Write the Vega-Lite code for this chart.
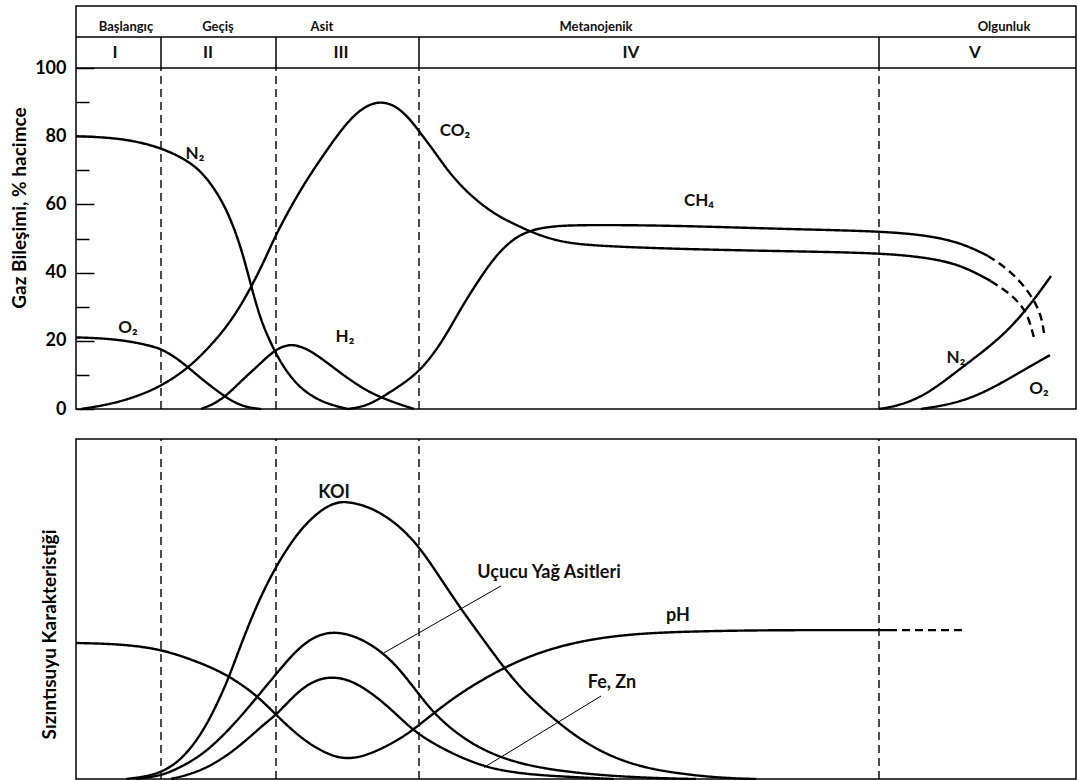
{
  "$schema": "https://vega.github.io/schema/vega-lite/v6.json",
  "padding": {"left": 9, "top": 5, "right": 3, "bottom": 2},
  "background": "white",
  "bounds": "flush",
  "spacing": 30,
  "config": {
    "view": {"stroke": "black", "strokeWidth": 1.5},
    "axis": {"grid": false},
    "font": "Lato",
    "text": {"font": "Lato", "fontWeight": "bold", "color": "#111"}
  },
  "datasets": {
    "gas": [
      {"s": "N2a", "d": "solid", "x": 0, "y": 80}, {"s": "N2a", "d": "solid", "x": 3, "y": 79.7}, {"s": "N2a", "d": "solid", "x": 6, "y": 78.6}, {"s": "N2a", "d": "solid", "x": 8.5, "y": 76.5}, {"s": "N2a", "d": "solid", "x": 10.2, "y": 74.3}, {"s": "N2a", "d": "solid", "x": 11.8, "y": 71.5}, {"s": "N2a", "d": "solid", "x": 13, "y": 68}, {"s": "N2a", "d": "solid", "x": 14.2, "y": 63}, {"s": "N2a", "d": "solid", "x": 15.2, "y": 57.5}, {"s": "N2a", "d": "solid", "x": 16.2, "y": 50}, {"s": "N2a", "d": "solid", "x": 17, "y": 42}, {"s": "N2a", "d": "solid", "x": 17.7, "y": 34}, {"s": "N2a", "d": "solid", "x": 18.5, "y": 26}, {"s": "N2a", "d": "solid", "x": 19.3, "y": 20.5}, {"s": "N2a", "d": "solid", "x": 20.2, "y": 15}, {"s": "N2a", "d": "solid", "x": 21.3, "y": 10}, {"s": "N2a", "d": "solid", "x": 22.5, "y": 6}, {"s": "N2a", "d": "solid", "x": 24, "y": 3}, {"s": "N2a", "d": "solid", "x": 25.5, "y": 1.2}, {"s": "N2a", "d": "solid", "x": 27.2, "y": 0},
      {"s": "O2a", "d": "solid", "x": 0, "y": 21}, {"s": "O2a", "d": "solid", "x": 3, "y": 20.7}, {"s": "O2a", "d": "solid", "x": 5.5, "y": 19.8}, {"s": "O2a", "d": "solid", "x": 7.5, "y": 18.5}, {"s": "O2a", "d": "solid", "x": 8.5, "y": 17.6}, {"s": "O2a", "d": "solid", "x": 9.8, "y": 15.5}, {"s": "O2a", "d": "solid", "x": 11.3, "y": 12}, {"s": "O2a", "d": "solid", "x": 12.5, "y": 9}, {"s": "O2a", "d": "solid", "x": 13.5, "y": 6.7}, {"s": "O2a", "d": "solid", "x": 14.5, "y": 4.5}, {"s": "O2a", "d": "solid", "x": 15.5, "y": 2.5}, {"s": "O2a", "d": "solid", "x": 16.5, "y": 1.1}, {"s": "O2a", "d": "solid", "x": 17.5, "y": 0.3}, {"s": "O2a", "d": "solid", "x": 18.5, "y": 0},
      {"s": "CO2", "d": "solid", "x": 0.5, "y": 0}, {"s": "CO2", "d": "solid", "x": 3.5, "y": 1.4}, {"s": "CO2", "d": "solid", "x": 6.2, "y": 3.8}, {"s": "CO2", "d": "solid", "x": 8.5, "y": 6.7}, {"s": "CO2", "d": "solid", "x": 11.3, "y": 12}, {"s": "CO2", "d": "solid", "x": 14.2, "y": 20.8}, {"s": "CO2", "d": "solid", "x": 16, "y": 28}, {"s": "CO2", "d": "solid", "x": 17.5, "y": 35.6}, {"s": "CO2", "d": "solid", "x": 19, "y": 44.5}, {"s": "CO2", "d": "solid", "x": 20, "y": 51.3}, {"s": "CO2", "d": "solid", "x": 22.5, "y": 64.8}, {"s": "CO2", "d": "solid", "x": 25.2, "y": 76.5}, {"s": "CO2", "d": "solid", "x": 27.2, "y": 84.5}, {"s": "CO2", "d": "solid", "x": 28.8, "y": 88.6}, {"s": "CO2", "d": "solid", "x": 30.2, "y": 90.2}, {"s": "CO2", "d": "solid", "x": 31.5, "y": 89.5}, {"s": "CO2", "d": "solid", "x": 32.5, "y": 87.6}, {"s": "CO2", "d": "solid", "x": 33.5, "y": 84.6}, {"s": "CO2", "d": "solid", "x": 34.3, "y": 81.5}, {"s": "CO2", "d": "solid", "x": 35.8, "y": 75.7}, {"s": "CO2", "d": "solid", "x": 37.2, "y": 69.8}, {"s": "CO2", "d": "solid", "x": 38.8, "y": 64.5}, {"s": "CO2", "d": "solid", "x": 40.5, "y": 60.1}, {"s": "CO2", "d": "solid", "x": 42.2, "y": 56.6}, {"s": "CO2", "d": "solid", "x": 43.8, "y": 54.3}, {"s": "CO2", "d": "solid", "x": 45.3, "y": 52.2}, {"s": "CO2", "d": "solid", "x": 47.2, "y": 50.1}, {"s": "CO2", "d": "solid", "x": 49.2, "y": 48.7}, {"s": "CO2", "d": "solid", "x": 52.2, "y": 47.8}, {"s": "CO2", "d": "solid", "x": 60.5, "y": 46.9}, {"s": "CO2", "d": "solid", "x": 70.5, "y": 46.3}, {"s": "CO2", "d": "solid", "x": 80.2, "y": 45.8}, {"s": "CO2", "d": "solid", "x": 85, "y": 44.5}, {"s": "CO2", "d": "solid", "x": 88.5, "y": 42.3}, {"s": "CO2", "d": "solid", "x": 91.5, "y": 37.5},
      {"s": "CO2d", "d": "dash", "x": 91.5, "y": 37.5}, {"s": "CO2d", "d": "dash", "x": 93.8, "y": 33.1}, {"s": "CO2d", "d": "dash", "x": 95.2, "y": 27.9}, {"s": "CO2d", "d": "dash", "x": 95.8, "y": 20.8},
      {"s": "CH4", "d": "solid", "x": 27.2, "y": 0}, {"s": "CH4", "d": "solid", "x": 29, "y": 0.8}, {"s": "CH4", "d": "solid", "x": 30.8, "y": 3.8}, {"s": "CH4", "d": "solid", "x": 32.5, "y": 7}, {"s": "CH4", "d": "solid", "x": 34.4, "y": 11.1}, {"s": "CH4", "d": "solid", "x": 36.5, "y": 19}, {"s": "CH4", "d": "solid", "x": 38.5, "y": 29.6}, {"s": "CH4", "d": "solid", "x": 40.2, "y": 37.5}, {"s": "CH4", "d": "solid", "x": 41.8, "y": 44.3}, {"s": "CH4", "d": "solid", "x": 43.5, "y": 49.5}, {"s": "CH4", "d": "solid", "x": 45.3, "y": 52.4}, {"s": "CH4", "d": "solid", "x": 47.8, "y": 53.8}, {"s": "CH4", "d": "solid", "x": 52, "y": 54}, {"s": "CH4", "d": "solid", "x": 60, "y": 53.8}, {"s": "CH4", "d": "solid", "x": 70.5, "y": 52.8}, {"s": "CH4", "d": "solid", "x": 80.2, "y": 52.2}, {"s": "CH4", "d": "solid", "x": 85, "y": 51}, {"s": "CH4", "d": "solid", "x": 88.5, "y": 48.8}, {"s": "CH4", "d": "solid", "x": 91.2, "y": 44.9},
      {"s": "CH4d", "d": "dash", "x": 91.2, "y": 44.9}, {"s": "CH4d", "d": "dash", "x": 93.5, "y": 40.5}, {"s": "CH4d", "d": "dash", "x": 95.5, "y": 33.7}, {"s": "CH4d", "d": "dash", "x": 96.5, "y": 27.8}, {"s": "CH4d", "d": "dash", "x": 96.8, "y": 22.3},
      {"s": "H2", "d": "solid", "x": 12.5, "y": 0}, {"s": "H2", "d": "solid", "x": 14.5, "y": 2.3}, {"s": "H2", "d": "solid", "x": 16.5, "y": 8.2}, {"s": "H2", "d": "solid", "x": 18.5, "y": 13.5}, {"s": "H2", "d": "solid", "x": 19.8, "y": 17.2}, {"s": "H2", "d": "solid", "x": 21.5, "y": 19.5}, {"s": "H2", "d": "solid", "x": 23.5, "y": 17.2}, {"s": "H2", "d": "solid", "x": 25.8, "y": 12}, {"s": "H2", "d": "solid", "x": 28.5, "y": 6.2}, {"s": "H2", "d": "solid", "x": 30.8, "y": 2.9}, {"s": "H2", "d": "solid", "x": 33.8, "y": 0},
      {"s": "N2b", "d": "solid", "x": 80.3, "y": 0}, {"s": "N2b", "d": "solid", "x": 82.2, "y": 0.9}, {"s": "N2b", "d": "solid", "x": 85, "y": 4}, {"s": "N2b", "d": "solid", "x": 88.5, "y": 12}, {"s": "N2b", "d": "solid", "x": 92.5, "y": 20.8}, {"s": "N2b", "d": "solid", "x": 95.2, "y": 29.6}, {"s": "N2b", "d": "solid", "x": 97.5, "y": 39},
      {"s": "O2b", "d": "solid", "x": 84.5, "y": 0}, {"s": "O2b", "d": "solid", "x": 88, "y": 1.6}, {"s": "O2b", "d": "solid", "x": 91.2, "y": 5.3}, {"s": "O2b", "d": "solid", "x": 94.5, "y": 11}, {"s": "O2b", "d": "solid", "x": 97.4, "y": 15.8}
    ],
    "gasLabels": [
      {"x": 11.9, "y": 74.8, "t": "N₂"}, {"x": 5.2, "y": 23.8, "t": "O₂"}, {"x": 26.9, "y": 21.1, "t": "H₂"}, {"x": 37.9, "y": 81.5, "t": "CO₂"}, {"x": 62.3, "y": 61, "t": "CH₄"}, {"x": 88, "y": 15, "t": "N₂"}, {"x": 96.3, "y": 5.9, "t": "O₂"}
    ],
    "phaseLines": [{"x": 8.5}, {"x": 20}, {"x": 34.3}, {"x": 80.3}],
    "headerLines": [{"h": 100}, {"h": 109.1}],
    "phases": [
      {"x": 5.0, "t": "Başlangıç"}, {"x": 14.2, "t": "Geçiş"}, {"x": 24.6, "t": "Asit"}, {"x": 52.0, "t": "Metanojenik"}, {"x": 92.8, "t": "Olgunluk"}
    ],
    "numerals": [
      {"x": 3.9, "t": "I"}, {"x": 13.2, "t": "II"}, {"x": 26.5, "t": "III"}, {"x": 55.5, "t": "IV"}, {"x": 89.9, "t": "V"}
    ],
    "leach": [
      {"s": "KOI", "d": "solid", "x": 5, "y": 0}, {"s": "KOI", "d": "solid", "x": 7, "y": 0.7}, {"s": "KOI", "d": "solid", "x": 8.5, "y": 2}, {"s": "KOI", "d": "solid", "x": 10, "y": 4.5}, {"s": "KOI", "d": "solid", "x": 11.5, "y": 9}, {"s": "KOI", "d": "solid", "x": 13, "y": 15.5}, {"s": "KOI", "d": "solid", "x": 14.5, "y": 24.5}, {"s": "KOI", "d": "solid", "x": 15.5, "y": 31.5}, {"s": "KOI", "d": "solid", "x": 16.8, "y": 42}, {"s": "KOI", "d": "solid", "x": 18.5, "y": 54}, {"s": "KOI", "d": "solid", "x": 20.1, "y": 63}, {"s": "KOI", "d": "solid", "x": 21.5, "y": 69.5}, {"s": "KOI", "d": "solid", "x": 22.8, "y": 74.5}, {"s": "KOI", "d": "solid", "x": 24.5, "y": 79.2}, {"s": "KOI", "d": "solid", "x": 26, "y": 81.4}, {"s": "KOI", "d": "solid", "x": 27.2, "y": 81.6}, {"s": "KOI", "d": "solid", "x": 29.5, "y": 80}, {"s": "KOI", "d": "solid", "x": 32.2, "y": 75}, {"s": "KOI", "d": "solid", "x": 34.4, "y": 68}, {"s": "KOI", "d": "solid", "x": 36, "y": 61}, {"s": "KOI", "d": "solid", "x": 38.5, "y": 50}, {"s": "KOI", "d": "solid", "x": 40, "y": 44}, {"s": "KOI", "d": "solid", "x": 42.8, "y": 32.6}, {"s": "KOI", "d": "solid", "x": 45, "y": 25}, {"s": "KOI", "d": "solid", "x": 48.2, "y": 16.5}, {"s": "KOI", "d": "solid", "x": 51, "y": 10.5}, {"s": "KOI", "d": "solid", "x": 53.8, "y": 6.2}, {"s": "KOI", "d": "solid", "x": 57, "y": 3.2}, {"s": "KOI", "d": "solid", "x": 60.5, "y": 1.5}, {"s": "KOI", "d": "solid", "x": 64.5, "y": 0.3}, {"s": "KOI", "d": "solid", "x": 68, "y": 0},
      {"s": "VFA", "d": "solid", "x": 6, "y": 0}, {"s": "VFA", "d": "solid", "x": 8.5, "y": 0.9}, {"s": "VFA", "d": "solid", "x": 10.5, "y": 3.5}, {"s": "VFA", "d": "solid", "x": 12.8, "y": 7.4}, {"s": "VFA", "d": "solid", "x": 15.5, "y": 15}, {"s": "VFA", "d": "solid", "x": 18.2, "y": 24.4}, {"s": "VFA", "d": "solid", "x": 20.1, "y": 31.2}, {"s": "VFA", "d": "solid", "x": 22.2, "y": 38.5}, {"s": "VFA", "d": "solid", "x": 24.2, "y": 42.6}, {"s": "VFA", "d": "solid", "x": 26.2, "y": 43.4}, {"s": "VFA", "d": "solid", "x": 28.5, "y": 41.4}, {"s": "VFA", "d": "solid", "x": 30.8, "y": 37}, {"s": "VFA", "d": "solid", "x": 32.8, "y": 30.9}, {"s": "VFA", "d": "solid", "x": 35.5, "y": 20}, {"s": "VFA", "d": "solid", "x": 38, "y": 13.5}, {"s": "VFA", "d": "solid", "x": 40.5, "y": 8.8}, {"s": "VFA", "d": "solid", "x": 43.5, "y": 5.2}, {"s": "VFA", "d": "solid", "x": 47.2, "y": 2.8}, {"s": "VFA", "d": "solid", "x": 52, "y": 1.2}, {"s": "VFA", "d": "solid", "x": 57.2, "y": 0.3}, {"s": "VFA", "d": "solid", "x": 62, "y": 0},
      {"s": "FeZn", "d": "solid", "x": 9.5, "y": 0}, {"s": "FeZn", "d": "solid", "x": 12.8, "y": 2.4}, {"s": "FeZn", "d": "solid", "x": 16.2, "y": 9.1}, {"s": "FeZn", "d": "solid", "x": 18.8, "y": 16.2}, {"s": "FeZn", "d": "solid", "x": 20.1, "y": 19}, {"s": "FeZn", "d": "solid", "x": 22.2, "y": 25.9}, {"s": "FeZn", "d": "solid", "x": 24.2, "y": 29.6}, {"s": "FeZn", "d": "solid", "x": 26.2, "y": 30.1}, {"s": "FeZn", "d": "solid", "x": 28.2, "y": 28.1}, {"s": "FeZn", "d": "solid", "x": 30.8, "y": 22.5}, {"s": "FeZn", "d": "solid", "x": 32.8, "y": 16.8}, {"s": "FeZn", "d": "solid", "x": 34.4, "y": 12.8}, {"s": "FeZn", "d": "solid", "x": 37.2, "y": 8}, {"s": "FeZn", "d": "solid", "x": 40.8, "y": 3.5}, {"s": "FeZn", "d": "solid", "x": 44, "y": 1.8}, {"s": "FeZn", "d": "solid", "x": 47.2, "y": 0.9}, {"s": "FeZn", "d": "solid", "x": 53.8, "y": 0},
      {"s": "pH", "d": "solid", "x": 0, "y": 40}, {"s": "pH", "d": "solid", "x": 4.5, "y": 39.7}, {"s": "pH", "d": "solid", "x": 8.5, "y": 38.2}, {"s": "pH", "d": "solid", "x": 11.8, "y": 34.9}, {"s": "pH", "d": "solid", "x": 15, "y": 31}, {"s": "pH", "d": "solid", "x": 18.2, "y": 24.4}, {"s": "pH", "d": "solid", "x": 20.1, "y": 18.5}, {"s": "pH", "d": "solid", "x": 22.8, "y": 11.2}, {"s": "pH", "d": "solid", "x": 25.2, "y": 7.2}, {"s": "pH", "d": "solid", "x": 26.8, "y": 5.9}, {"s": "pH", "d": "solid", "x": 28.5, "y": 6.4}, {"s": "pH", "d": "solid", "x": 30.5, "y": 8.8}, {"s": "pH", "d": "solid", "x": 32.2, "y": 11.5}, {"s": "pH", "d": "solid", "x": 33.5, "y": 14}, {"s": "pH", "d": "solid", "x": 35.8, "y": 19.4}, {"s": "pH", "d": "solid", "x": 38.5, "y": 25.5}, {"s": "pH", "d": "solid", "x": 42.8, "y": 32.9}, {"s": "pH", "d": "solid", "x": 46.5, "y": 37.5}, {"s": "pH", "d": "solid", "x": 50.5, "y": 40.6}, {"s": "pH", "d": "solid", "x": 54.5, "y": 42.3}, {"s": "pH", "d": "solid", "x": 58.8, "y": 43.2}, {"s": "pH", "d": "solid", "x": 66.5, "y": 43.7}, {"s": "pH", "d": "solid", "x": 73, "y": 43.8}, {"s": "pH", "d": "solid", "x": 81.3, "y": 43.8},
      {"s": "pHd", "d": "dash", "x": 81.3, "y": 43.8}, {"s": "pHd", "d": "dash", "x": 89, "y": 43.8}
    ],
    "leaders": [
      {"x": 30.8, "y": 37.1, "x2": 42.5, "y2": 56.8}, {"x": 40.8, "y": 3.4, "x2": 52.5, "y2": 24.4}
    ],
    "leachLabels": [
      {"x": 25.8, "y": 84.1, "t": "KOI"}, {"x": 47.3, "y": 60.6, "t": "Uçucu Yağ Asitleri"}, {"x": 60.2, "y": 47.9, "t": "pH"}, {"x": 53.6, "y": 28.2, "t": "Fe, Zn"}
    ]
  },
  "vconcat": [
    {
      "width": 1000,
      "height": 403,
      "layer": [
        {"data": {"name": "gas"}, "mark": {"type": "line", "interpolate": "basis", "strokeWidth": 2.4, "color": "black"},
          "encoding": {
            "x": {"field": "x", "type": "quantitative", "scale": {"domain": [0, 100], "nice": false, "zero": false}, "axis": null},
            "y": {"field": "y", "type": "quantitative", "scale": {"domain": [0, 118.2], "nice": false},
              "axis": {
                "values": [0, 10, 20, 30, 40, 50, 60, 70, 80, 90, 100],
                "labelExpr": "datum.value % 20 === 0 ? datum.label : ''",
                "tickSize": {"condition": {"test": "datum.value % 20 === 0", "value": -18}, "value": -13},
                "tickColor": "black", "tickWidth": 1.5,
                "domain": false, "grid": false,
                "labelFont": "Lato", "labelFontWeight": "bold", "labelFontSize": 18, "labelColor": "black", "labelPadding": 28,
                "title": "Gaz Bileşimi, % hacimce", "titleFont": "Lato", "titleFontSize": 19, "titleFontWeight": "bold", "titleColor": "black",
                "titleX": -57, "titleBaseline": "middle"
              }
            },
            "detail": {"field": "s"},
            "strokeDash": {"field": "d", "type": "nominal", "scale": {"domain": ["solid", "dash"], "range": [[1, 0], [8, 5]]}, "legend": null}
          }},
        {"data": {"name": "phaseLines"}, "mark": {"type": "rule", "strokeDash": [8, 5], "strokeWidth": 1.4, "color": "black"},
          "encoding": {
            "x": {"field": "x", "type": "quantitative", "scale": {"domain": [0, 100], "nice": false, "zero": false}, "axis": null},
            "y": {"datum": 0, "type": "quantitative", "scale": {"domain": [0, 118.2], "nice": false}},
            "y2": {"datum": 100}}},
        {"data": {"name": "phaseLines"}, "mark": {"type": "rule", "strokeWidth": 1.5, "color": "black"},
          "encoding": {
            "x": {"field": "x", "type": "quantitative", "scale": {"domain": [0, 100], "nice": false, "zero": false}, "axis": null},
            "y": {"datum": 100, "type": "quantitative", "scale": {"domain": [0, 118.2], "nice": false}},
            "y2": {"datum": 109.1}}},
        {"data": {"name": "headerLines"}, "mark": {"type": "rule", "strokeWidth": 1.5, "color": "black"},
          "encoding": {
            "x": {"datum": 0, "type": "quantitative", "scale": {"domain": [0, 100], "nice": false, "zero": false}, "axis": null},
            "x2": {"datum": 100},
            "y": {"field": "h", "type": "quantitative", "scale": {"domain": [0, 118.2], "nice": false}}}},
        {"data": {"name": "gasLabels"}, "mark": {"type": "text", "fontSize": 17, "baseline": "middle", "align": "center"},
          "encoding": {
            "x": {"field": "x", "type": "quantitative", "scale": {"domain": [0, 100], "nice": false, "zero": false}, "axis": null},
            "y": {"field": "y", "type": "quantitative", "scale": {"domain": [0, 118.2], "nice": false}},
            "text": {"field": "t"}}},
        {"data": {"name": "phases"}, "mark": {"type": "text", "fontSize": 13, "baseline": "middle", "align": "center"},
          "encoding": {
            "x": {"field": "x", "type": "quantitative", "scale": {"domain": [0, 100], "nice": false, "zero": false}, "axis": null},
            "y": {"datum": 112, "type": "quantitative", "scale": {"domain": [0, 118.2], "nice": false}},
            "text": {"field": "t"}}},
        {"data": {"name": "numerals"}, "mark": {"type": "text", "fontSize": 17, "baseline": "middle", "align": "center"},
          "encoding": {
            "x": {"field": "x", "type": "quantitative", "scale": {"domain": [0, 100], "nice": false, "zero": false}, "axis": null},
            "y": {"datum": 104.5, "type": "quantitative", "scale": {"domain": [0, 118.2], "nice": false}},
            "text": {"field": "t"}}}
      ]
    },
    {
      "width": 1000,
      "height": 340,
      "layer": [
        {"data": {"name": "leach"}, "mark": {"type": "line", "interpolate": "basis", "strokeWidth": 2.4, "color": "black"},
          "encoding": {
            "x": {"field": "x", "type": "quantitative", "scale": {"domain": [0, 100], "nice": false, "zero": false}, "axis": null},
            "y": {"field": "y", "type": "quantitative", "scale": {"domain": [0, 100], "nice": false},
              "axis": {
                "labels": false, "ticks": false, "domain": false, "grid": false,
                "title": "Sızıntısuyu Karakteristiği", "titleFont": "Lato", "titleFontSize": 19, "titleFontWeight": "bold", "titleColor": "black",
                "titleX": -27, "titleY": 195, "titleBaseline": "middle"
              }
            },
            "detail": {"field": "s"},
            "strokeDash": {"field": "d", "type": "nominal", "scale": {"domain": ["solid", "dash"], "range": [[1, 0], [8, 5]]}, "legend": null}
          }},
        {"data": {"name": "phaseLines"}, "mark": {"type": "rule", "strokeDash": [8, 5], "strokeWidth": 1.4, "color": "black"},
          "encoding": {
            "x": {"field": "x", "type": "quantitative", "scale": {"domain": [0, 100], "nice": false, "zero": false}, "axis": null},
            "y": {"datum": 0, "type": "quantitative", "scale": {"domain": [0, 100], "nice": false}},
            "y2": {"datum": 100}}},
        {"data": {"name": "leaders"}, "mark": {"type": "rule", "strokeWidth": 1, "color": "black"},
          "encoding": {
            "x": {"field": "x", "type": "quantitative", "scale": {"domain": [0, 100], "nice": false, "zero": false}, "axis": null},
            "y": {"field": "y", "type": "quantitative", "scale": {"domain": [0, 100], "nice": false}},
            "x2": {"field": "x2"}, "y2": {"field": "y2"}}},
        {"data": {"name": "leachLabels"}, "mark": {"type": "text", "fontSize": 18, "baseline": "middle", "align": "center"},
          "encoding": {
            "x": {"field": "x", "type": "quantitative", "scale": {"domain": [0, 100], "nice": false, "zero": false}, "axis": null},
            "y": {"field": "y", "type": "quantitative", "scale": {"domain": [0, 100], "nice": false}},
            "text": {"field": "t"}}}
      ]
    }
  ]
}
